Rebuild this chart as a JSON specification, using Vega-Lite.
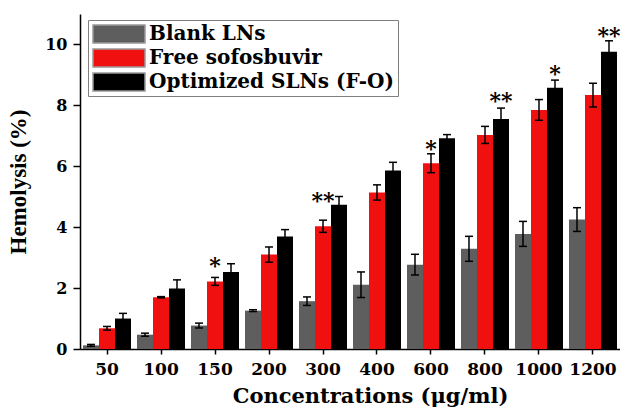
{
  "$schema": "https://vega.github.io/schema/vega-lite/v6.json",
  "width": 540,
  "height": 335,
  "autosize": "none",
  "padding": {"left": 80, "top": 14, "right": 0, "bottom": 59},
  "background": "white",
  "config": {
    "view": {"stroke": null},
    "axis": {
      "labelFont": "DejaVu Serif",
      "labelFontWeight": "bold",
      "labelColor": "black",
      "titleColor": "black",
      "domainColor": "black",
      "domainWidth": 1.5,
      "tickColor": "black",
      "tickWidth": 1.5,
      "grid": false
    }
  },
  "datasets": {
    "bars": [
      {"conc": "50", "series": "Blank LNs", "value": 0.12, "lo": 0.09, "hi": 0.15},
      {"conc": "100", "series": "Blank LNs", "value": 0.47, "lo": 0.42, "hi": 0.52},
      {"conc": "150", "series": "Blank LNs", "value": 0.77, "lo": 0.69, "hi": 0.85},
      {"conc": "200", "series": "Blank LNs", "value": 1.26, "lo": 1.23, "hi": 1.29},
      {"conc": "300", "series": "Blank LNs", "value": 1.57, "lo": 1.43, "hi": 1.71},
      {"conc": "400", "series": "Blank LNs", "value": 2.11, "lo": 1.69, "hi": 2.53},
      {"conc": "600", "series": "Blank LNs", "value": 2.77, "lo": 2.43, "hi": 3.11},
      {"conc": "800", "series": "Blank LNs", "value": 3.29, "lo": 2.88, "hi": 3.70},
      {"conc": "1000", "series": "Blank LNs", "value": 3.78, "lo": 3.37, "hi": 4.19},
      {"conc": "1200", "series": "Blank LNs", "value": 4.25, "lo": 3.86, "hi": 4.64},
      {"conc": "50", "series": "Free sofosbuvir", "value": 0.68, "lo": 0.62, "hi": 0.74},
      {"conc": "100", "series": "Free sofosbuvir", "value": 1.70, "lo": 1.68, "hi": 1.72},
      {"conc": "150", "series": "Free sofosbuvir", "value": 2.22, "lo": 2.09, "hi": 2.35},
      {"conc": "200", "series": "Free sofosbuvir", "value": 3.10, "lo": 2.85, "hi": 3.35},
      {"conc": "300", "series": "Free sofosbuvir", "value": 4.03, "lo": 3.83, "hi": 4.23},
      {"conc": "400", "series": "Free sofosbuvir", "value": 5.14, "lo": 4.89, "hi": 5.39},
      {"conc": "600", "series": "Free sofosbuvir", "value": 6.10, "lo": 5.79, "hi": 6.41},
      {"conc": "800", "series": "Free sofosbuvir", "value": 7.03, "lo": 6.75, "hi": 7.31},
      {"conc": "1000", "series": "Free sofosbuvir", "value": 7.85, "lo": 7.51, "hi": 8.19},
      {"conc": "1200", "series": "Free sofosbuvir", "value": 8.34, "lo": 7.95, "hi": 8.73},
      {"conc": "50", "series": "Optimized SLNs (F-O)", "value": 1.00, "lo": 0.83, "hi": 1.17},
      {"conc": "100", "series": "Optimized SLNs (F-O)", "value": 1.99, "lo": 1.71, "hi": 2.27},
      {"conc": "150", "series": "Optimized SLNs (F-O)", "value": 2.53, "lo": 2.26, "hi": 2.80},
      {"conc": "200", "series": "Optimized SLNs (F-O)", "value": 3.69, "lo": 3.46, "hi": 3.92},
      {"conc": "300", "series": "Optimized SLNs (F-O)", "value": 4.74, "lo": 4.47, "hi": 5.01},
      {"conc": "400", "series": "Optimized SLNs (F-O)", "value": 5.86, "lo": 5.59, "hi": 6.13},
      {"conc": "600", "series": "Optimized SLNs (F-O)", "value": 6.92, "lo": 6.80, "hi": 7.04},
      {"conc": "800", "series": "Optimized SLNs (F-O)", "value": 7.55, "lo": 7.19, "hi": 7.91},
      {"conc": "1000", "series": "Optimized SLNs (F-O)", "value": 8.58, "lo": 8.33, "hi": 8.83},
      {"conc": "1200", "series": "Optimized SLNs (F-O)", "value": 9.76, "lo": 9.40, "hi": 10.12}
    ],
    "stars": [
      {"conc": "150", "series": "Free sofosbuvir", "label": "*", "at": 2.48},
      {"conc": "300", "series": "Free sofosbuvir", "label": "**", "at": 4.64},
      {"conc": "600", "series": "Free sofosbuvir", "label": "*", "at": 6.34},
      {"conc": "800", "series": "Optimized SLNs (F-O)", "label": "**", "at": 7.92},
      {"conc": "1000", "series": "Optimized SLNs (F-O)", "label": "*", "at": 8.80},
      {"conc": "1200", "series": "Optimized SLNs (F-O)", "label": "**", "at": 10.05}
    ]
  },
  "encoding": {
    "x": {
      "field": "conc",
      "type": "nominal",
      "sort": ["50", "100", "150", "200", "300", "400", "600", "800", "1000", "1200"],
      "scale": {"paddingInner": 0.111, "paddingOuter": 0.0556},
      "axis": {
        "title": "Concentrations (μg/ml)",
        "titleFont": "DejaVu Serif",
        "titleFontWeight": "bold",
        "titleFontSize": 21,
        "titleX": 290,
        "titlePadding": 8,
        "labelAngle": 0,
        "labelFontSize": 17,
        "labelPadding": 7,
        "tickSize": 5
      }
    },
    "xOffset": {
      "field": "series",
      "type": "nominal",
      "sort": ["Blank LNs", "Free sofosbuvir", "Optimized SLNs (F-O)"],
      "scale": {"paddingInner": 0, "paddingOuter": 0}
    }
  },
  "layer": [
    {
      "data": {"name": "bars"},
      "mark": {"type": "bar"},
      "encoding": {
        "y": {
          "field": "value",
          "type": "quantitative",
          "scale": {"domain": [0, 11], "nice": false},
          "axis": {
            "title": "Hemolysis (%)",
            "titleFont": "Liberation Serif",
            "titleFontWeight": "bold",
            "titleFontSize": 23,
            "titlePadding": 14,
            "values": [0, 1, 2, 3, 4, 5, 6, 7, 8, 9, 10],
            "labelExpr": "datum.value % 2 === 0 ? datum.label : ''",
            "labelFontSize": 16,
            "labelPadding": 6,
            "tickSize": {"expr": "datum.value % 2 === 0 ? 7 : 4"}
          }
        },
        "color": {
          "field": "series",
          "type": "nominal",
          "sort": ["Blank LNs", "Free sofosbuvir", "Optimized SLNs (F-O)"],
          "scale": {
            "domain": ["Blank LNs", "Free sofosbuvir", "Optimized SLNs (F-O)"],
            "range": ["#5e5e5e", "#f01010", "#000000"]
          },
          "legend": {
            "title": null,
            "orient": "none",
            "legendX": 8,
            "legendY": 6,
            "strokeColor": "#808080",
            "fillColor": "white",
            "padding": 4,
            "rowPadding": 4,
            "clipHeight": 20,
            "symbolType": "M-1,-0.35H1V0.35H-1Z",
            "symbolSize": 2704,
            "symbolStrokeColor": "#999999",
            "symbolStrokeWidth": 1.5,
            "symbolOpacity": 1,
            "labelFont": "DejaVu Serif",
            "labelFontWeight": "bold",
            "labelFontSize": 20,
            "labelColor": "black",
            "labelOffset": 3,
            "labelLimit": 400
          }
        }
      }
    },
    {
      "data": {"name": "bars"},
      "mark": {"type": "rule", "color": "black", "strokeWidth": 1.5},
      "encoding": {
        "y": {"field": "lo", "type": "quantitative"},
        "y2": {"field": "hi"}
      }
    },
    {
      "data": {"name": "bars"},
      "mark": {"type": "tick", "color": "black", "thickness": 1.5, "size": 8, "opacity": 1},
      "encoding": {
        "y": {"field": "hi", "type": "quantitative"}
      }
    },
    {
      "data": {"name": "bars"},
      "mark": {"type": "tick", "color": "black", "thickness": 1.5, "size": 8, "opacity": 1},
      "encoding": {
        "y": {"field": "lo", "type": "quantitative"}
      }
    },
    {
      "data": {"name": "stars"},
      "mark": {"type": "text", "font": "DejaVu Serif", "fontWeight": "bold", "fontSize": 22, "baseline": "alphabetic", "color": "black"},
      "encoding": {
        "y": {"field": "at", "type": "quantitative"},
        "text": {"field": "label"}
      }
    }
  ]
}
